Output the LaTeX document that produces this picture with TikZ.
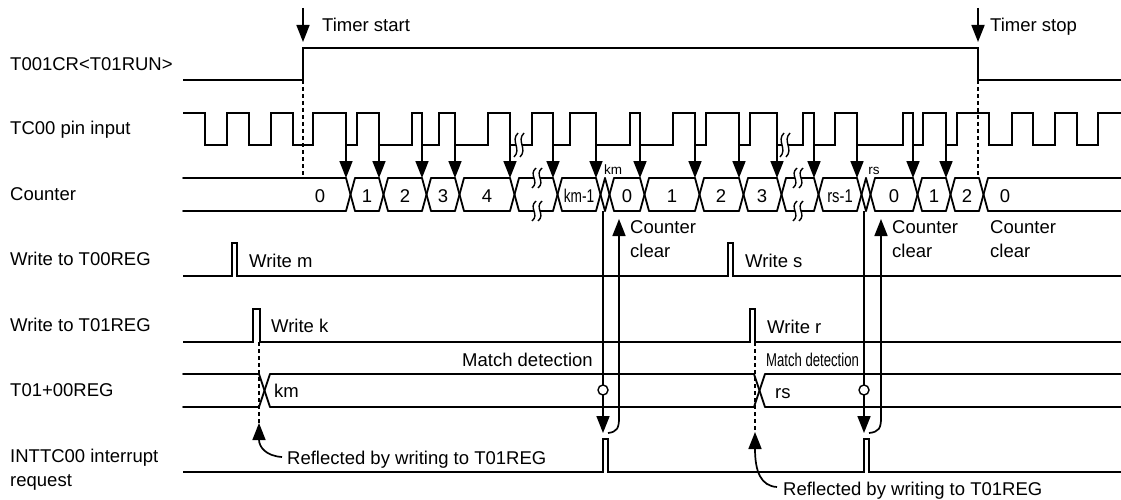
\documentclass[tikz,border=0pt]{standalone}
\usepackage{fontspec}
\setmainfont{Liberation Sans}
\usetikzlibrary{arrows.meta}
\newcommand\brkmark[3]{%
  \fill[white] (#1,#2-3) rectangle (#1+6,#2+3);
  \draw[line width=1.4pt] (#1+2,#2-#3) .. controls (#1-6,#2-#3/3) and (#1+6,#2+#3/3) .. (#1-2,#2+#3);
  \draw[line width=1.4pt] (#1+8,#2-#3) .. controls (#1,#2-#3/3) and (#1+12,#2+#3/3) .. (#1+4,#2+#3);
}
\begin{document}
\begin{tikzpicture}[x=1pt,y=-1pt,
  sig/.style={line width=1.8pt},
  bus/.style={line width=1.8pt,line cap=round},
  arr/.style={line width=1.7pt,-{Triangle[length=17pt,width=13pt]}},
  dsh/.style={line width=1.5pt,dash pattern=on 4pt off 3pt},
  lbl/.style={anchor=base west,inner sep=0pt,font=\fontsize{18.5}{24}\selectfont},
  val/.style={anchor=base,inner sep=0pt,font=\fontsize{18.5}{24}\selectfont},
  sml/.style={anchor=base,inner sep=0pt,font=\fontsize{13.5}{16}\selectfont},
]
\useasboundingbox[fill=white] (0,0) rectangle (1121,500);

% ---- row labels
\node[lbl] (lrun) at (10,71) {T001CR<T01RUN>};
\node[lbl] (ltc) at (10,135) {TC00 pin input};
\node[lbl] (lcnt) at (10,200) {Counter};
\node[lbl] (lw0) at (10,265) {Write to T00REG};
\node[lbl] (lw1) at (10,331) {Write to T01REG};
\node[lbl] (lreg) at (10,396) {T01+00REG};
\node[lbl,anchor=north west,align=left] (lint) at (10,449) {INTTC00 interrupt\\request};

% ---- T001CR<T01RUN>
\draw[sig] (183,80) -- (303,80) -- (303,48) -- (978,48) -- (978,80) -- (1121,80);
\coordinate (st0) at (303,8); \coordinate (st1) at (303,42);
\coordinate (sp0) at (978,8); \coordinate (sp1) at (978,42);
\draw[arr] (st0) -- (st1);
\draw[arr] (sp0) -- (sp1);
\node[lbl] (tstart) at (322,32) {Timer start};
\node[lbl] (tstop) at (990,32) {Timer stop};

% ---- TC00 pin input
\draw[sig] (183,113) -| (205,145) -| (227,113) -| (249,145) -| (271,113) -| (293,145)
  -| (313,113) -| (346,145) -| (357,113) -| (379,145) -| (412,113) -| (422,145)
  -| (439,113) -| (455,145) -| (488,113) -| (510,145) -| (532,113) -| (553,145)
  -| (570,113) -| (596,145) -| (630,113) -| (640,145) -| (673,113) -| (695,145)
  -| (706,113) -| (739,145) -| (750,113) -| (777,145) -| (803,113) -| (814,145)
  -| (835,113) -| (857,145) -| (903,113) -| (913,145) -| (923,113) -| (946,145)
  -| (957,113) -| (989,145) -| (1012,113) -| (1033,145) -| (1055,113) -| (1077,145)
  -| (1098,113) -- (1121,113);
\brkmark{516}{145}{12}
\brkmark{782}{145}{12}

% ---- Counter bus
\foreach \a/\b in {183/346,355/379,388/422,431/455,464/510,519/553,562/596,614/640,
  649/695,704/739,748/777,786/814,823/857,875/913,922/946,955/979,988/1121}
  {\draw[bus] (\a,178) -- (\b,178); \draw[bus] (\a,211) -- (\b,211);}
\foreach \t in {346,379,422,455,510,553,596,605,640,695,739,777,814,857,866,913,946,979}
  {\draw[bus] (\t,178) -- (\t+9,211); \draw[bus] (\t,211) -- (\t+9,178);}
\brkmark{534}{178}{10}
\brkmark{534}{211}{10}
\brkmark{795}{178}{10}
\brkmark{795}{211}{10}

\node[val] (c0) at (320,202) {0};
\node[val] (c1) at (367,202) {1};
\node[val] (c2) at (405,202) {2};
\node[val] (c3) at (443,202) {3};
\node[val] (c4) at (487,202) {4};
\node[val] (ckm1) at (579,202) {\scalebox{0.74}[1]{km-1}};
\node[val] (c0b) at (627,202) {0};
\node[val] (c1b) at (672,202) {1};
\node[val] (c2b) at (721,202) {2};
\node[val] (c3b) at (762,202) {3};
\node[val] (crs1) at (840,202) {\scalebox{0.8}[1]{rs-1}};
\node[val] (c0c) at (894,202) {0};
\node[val] (c1c) at (934,202) {1};
\node[val] (c2c) at (967,202) {2};
\node[val] (c0d) at (1005,202) {0};
\node[sml] (kmtop) at (613,174) {km};
\node[sml] (rstop) at (874,174) {rs};

% clock arrows to counter
\foreach \t in {346,379,422,455,510,553,596,640,695,739,777,814,857,913,946}
  {\coordinate (a\t) at (\t,145); \coordinate (b\t) at (\t,178); \draw[arr] (a\t) -- (b\t);}

% dashed lines from timer start/stop
\coordinate (ds0) at (303,80); \coordinate (ds1) at (303,178);
\coordinate (dp0) at (978,80); \coordinate (dp1) at (978,178);
\draw[dsh] (ds0) -- (ds1);
\draw[dsh] (dp0) -- (dp1);

% ---- Write to T00REG
\draw[sig] (183,276) -| (232,243) -| (237,276) -| (728,243) -| (733,276) -- (1121,276);
\node[lbl] (wm) at (249,267) {Write m};
\node[lbl] (ws) at (745,267) {Write s};

% ---- Write to T01REG
\draw[sig] (183,342) -| (253,309) -| (260,342) -| (750,309) -| (755,342) -- (1121,342);
\node[lbl] (wk) at (271,332) {Write k};
\node[lbl] (wr) at (767,333) {Write r};

% ---- T01+00REG bus
\foreach \a/\b in {183/259,270/754,765/1121}
  {\draw[bus] (\a,374) -- (\b,374); \draw[bus] (\a,407) -- (\b,407);}
\foreach \t in {259,754}
  {\draw[bus] (\t,374) -- (\t+11,407); \draw[bus] (\t,407) -- (\t+11,374);}
\node[lbl] (rkm) at (274,397) {km};
\node[lbl] (rrs) at (775,398) {rs};
\node[lbl] (md1) at (462,366) {Match detection};
\node[lbl] (md2) at (766,366) {\scalebox{0.71}[1]{Match detection}};

% ---- INTTC00
\draw[sig] (183,472) -| (603,439) -| (608,472) -| (864,439) -| (869,472) -- (1121,472);

% dashed reflect lines and arrows
\coordinate (dk0) at (259,342); \coordinate (dk1) at (259,423);
\coordinate (dr0) at (755,342); \coordinate (dr1) at (755,432);
\draw[dsh] (dk0) -- (dk1);
\draw[dsh] (dr0) -- (dr1);
\node[lbl] (ref1) at (287,464) {Reflected by writing to T01REG};
\node[lbl] (ref2) at (783,495) {Reflected by writing to T01REG};
\coordinate (rf1) at (282,457);
\coordinate (rf2) at (777,487);
\draw[arr] (rf1) .. controls (266,456) and (259,447) .. (dk1);
\draw[arr] (rf2) .. controls (761,486) and (755,472) .. (dr1);

% match detection lines -> interrupt
\coordinate (m1a) at (603,211); \coordinate (m1b) at (603,433);
\coordinate (m2a) at (864,211); \coordinate (m2b) at (864,433);
\draw[arr] (m1a) -- (m1b);
\draw[arr] (m2a) -- (m2b);
\draw[line width=1.4pt,fill=white] (603,390) circle[radius=5];
\draw[line width=1.4pt,fill=white] (864,390) circle[radius=5];

% counter clear arrows
\coordinate (cc1a) at (608,433); \coordinate (cc1b) at (619,219);
\coordinate (cc2a) at (869,433); \coordinate (cc2b) at (881,219);
\draw[arr] (cc1a) .. controls (617,432) and (619,428) .. (619,418) -- (cc1b);
\draw[arr] (cc2a) .. controls (879,432) and (881,428) .. (881,418) -- (cc2b);
\node[lbl,anchor=north west,align=left] (cl1) at (630,220) {Counter\\clear};
\node[lbl,anchor=north west,align=left] (cl2) at (892,220) {Counter\\clear};
\node[lbl,anchor=north west,align=left] (cl3) at (990,220) {Counter\\clear};
\end{tikzpicture}
\end{document}
